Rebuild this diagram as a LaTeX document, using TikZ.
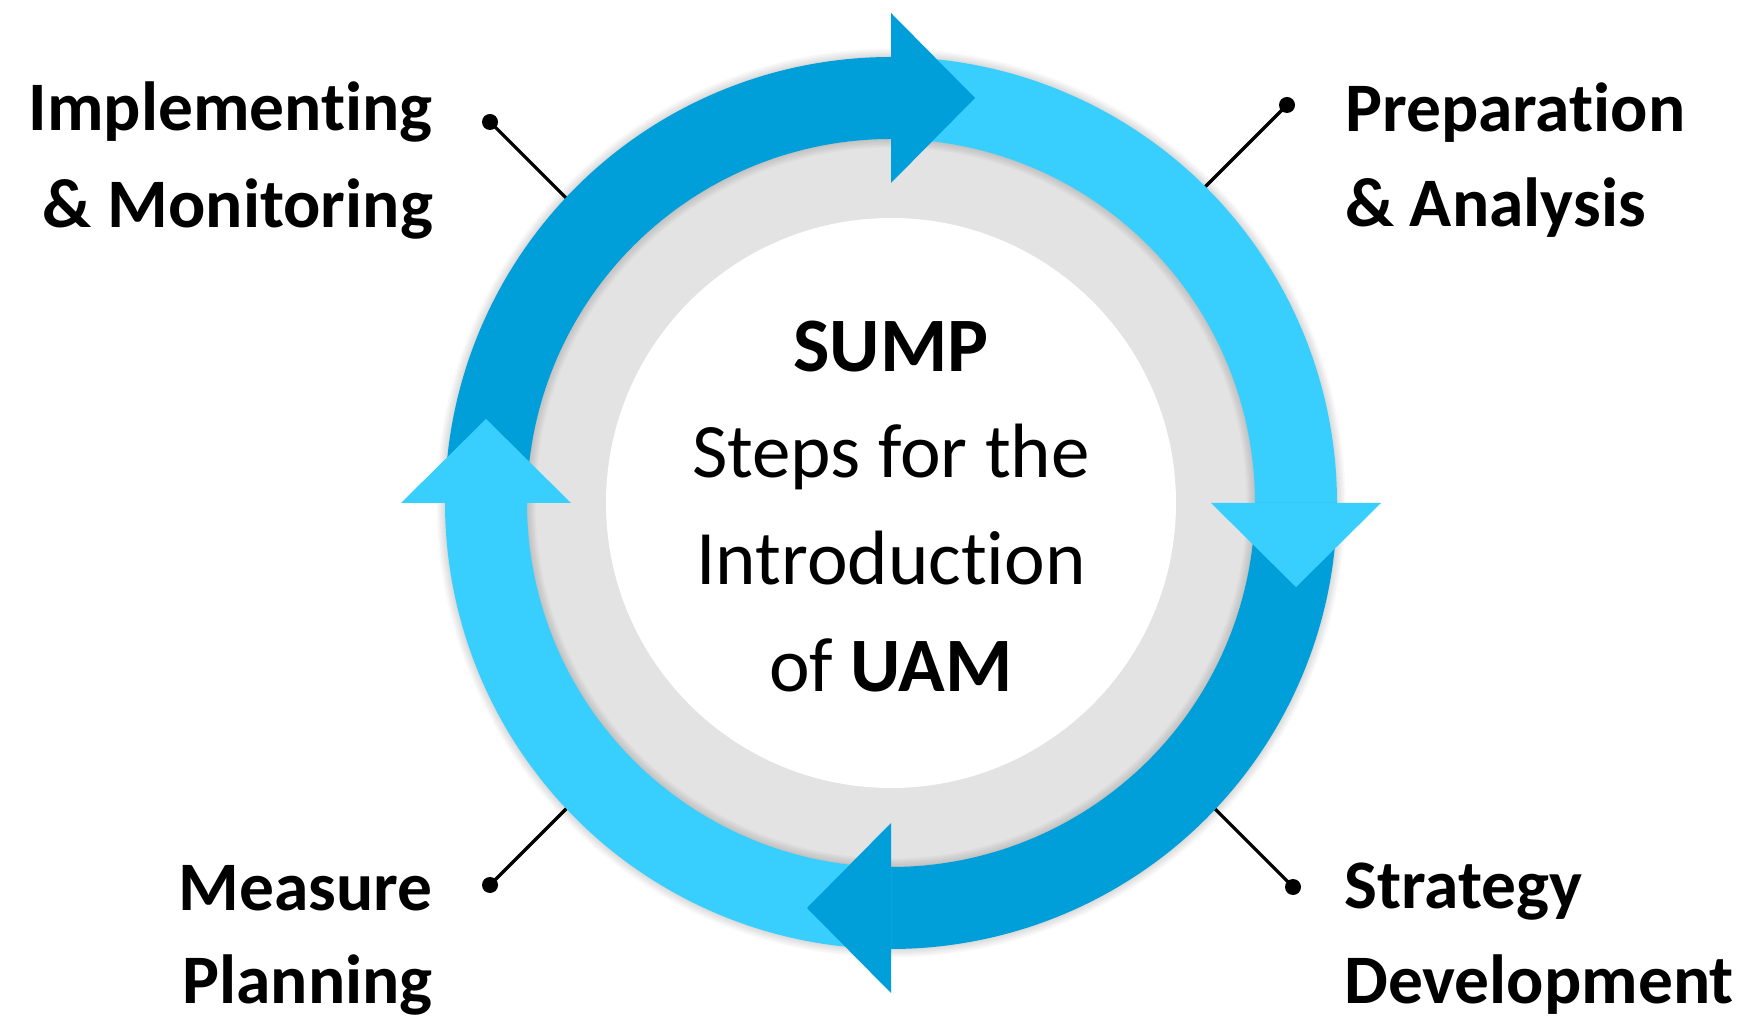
\documentclass[tikz,border=0pt]{standalone}
\usepackage{fontspec}
\setmainfont{Carlito}[Ligatures={NoCommon}]
\definecolor{darkblue}{RGB}{0,159,217}
\definecolor{lightblue}{RGB}{56,207,255}
\definecolor{ringgray}{RGB}{227,227,227}
\begin{document}
\begin{tikzpicture}[x=1pt,y=1pt,
  lbl/.style={inner sep=0pt, font=\fontsize{69.5}{84}\selectfont\bfseries},
  ctr/.style={inner sep=0pt, anchor=base, font=\fontsize{77}{92}\selectfont},
  ctrb/.style={inner sep=0pt, anchor=base, font=\fontsize{77}{92}\selectfont\bfseries},
  conn/.style={line width=3.2pt, black},
  dotc/.style={circle, fill=black, minimum size=16pt, inner sep=0pt},
  shadowring/.style={black, opacity=0.025}]
\useasboundingbox (0,0) rectangle (1745,1018);
\fill[white] (0,0) rectangle (1745,1018);
\coordinate (C) at (891,515);

% connectors with dots
\node[dotc] (dTL) at (490,896) {};
\coordinate (eTL) at (600,786);
\draw[conn] (dTL.center) -- (eTL);
\node[dotc] (dTR) at (1287,913) {};
\coordinate (eTR) at (1157,783);
\draw[conn] (dTR.center) -- (eTR);
\node[dotc] (dBL) at (490,133) {};
\coordinate (eBL) at (605,248);
\draw[conn] (dBL.center) -- (eBL);
\node[dotc] (dBR) at (1293,131) {};
\coordinate (eBR) at (1168,256);
\draw[conn] (dBR.center) -- (eBR);

% discs
\fill[ringgray] (C) circle[radius=380];
\fill[white] (C) circle[radius=285];

% soft shadow of the ring
\foreach \w in {84,87,90,93,96,99}
  \draw[shadowring, line width=\w pt] (C) circle[radius=405];

% ring segments
\fill[darkblue] ([shift={(180:446)}]C) arc[start angle=180, end angle=89, radius=446]
  -- ([shift={(89:364)}]C) arc[start angle=89, end angle=180, radius=364] -- cycle;
\fill[lightblue] ([shift={(90:446)}]C) arc[start angle=90, end angle=-1, radius=446]
  -- ([shift={(-1:364)}]C) arc[start angle=-1, end angle=90, radius=364] -- cycle;
\fill[darkblue] ([shift={(0:446)}]C) arc[start angle=0, end angle=-91, radius=446]
  -- ([shift={(-91:364)}]C) arc[start angle=-91, end angle=0, radius=364] -- cycle;
\fill[lightblue] ([shift={(-90:446)}]C) arc[start angle=-90, end angle=-181, radius=446]
  -- ([shift={(-181:364)}]C) arc[start angle=-181, end angle=-90, radius=364] -- cycle;

% arrow heads
\fill[darkblue] ([shift={(0,320)}]C) -- ([shift={(0,490)}]C) -- ([shift={(84,405)}]C) -- cycle;
\fill[lightblue] ([shift={(320,0)}]C) -- ([shift={(490,0)}]C) -- ([shift={(405,-84)}]C) -- cycle;
\fill[darkblue] ([shift={(0,-320)}]C) -- ([shift={(0,-490)}]C) -- ([shift={(-84,-405)}]C) -- cycle;
\fill[lightblue] ([shift={(-320,0)}]C) -- ([shift={(-490,0)}]C) -- ([shift={(-405,84)}]C) -- cycle;

% labels
\node[lbl, anchor=base east] (tl1) at (433,887) {Implementing};
\node[lbl, anchor=base east] (tl2) at (433,790) {\& Monitoring};
\node[lbl, anchor=base west] (tr1) at (1345,886) {Preparation};
\node[lbl, anchor=base west] (tr2) at (1345,791) {\& Analysis};
\node[lbl, anchor=base east] (bl1) at (433,108) {Measure};
\node[lbl, anchor=base east] (bl2) at (433,15) {Planning};
\node[lbl, anchor=base west] (br1) at (1344,110) {Strategy};
\node[lbl, anchor=base west] (br2) at (1344,15) {Development};

% centre text
\node[ctrb] (sump) at (891,646) {SUMP};
\node[ctr] (steps) at (891,540) {Steps for the};
\node[ctr] (intro) at (891,433) {Introduction};
\node[ctr] (uam) at (891,326) {of \textbf{UAM}};
\end{tikzpicture}
\end{document}
